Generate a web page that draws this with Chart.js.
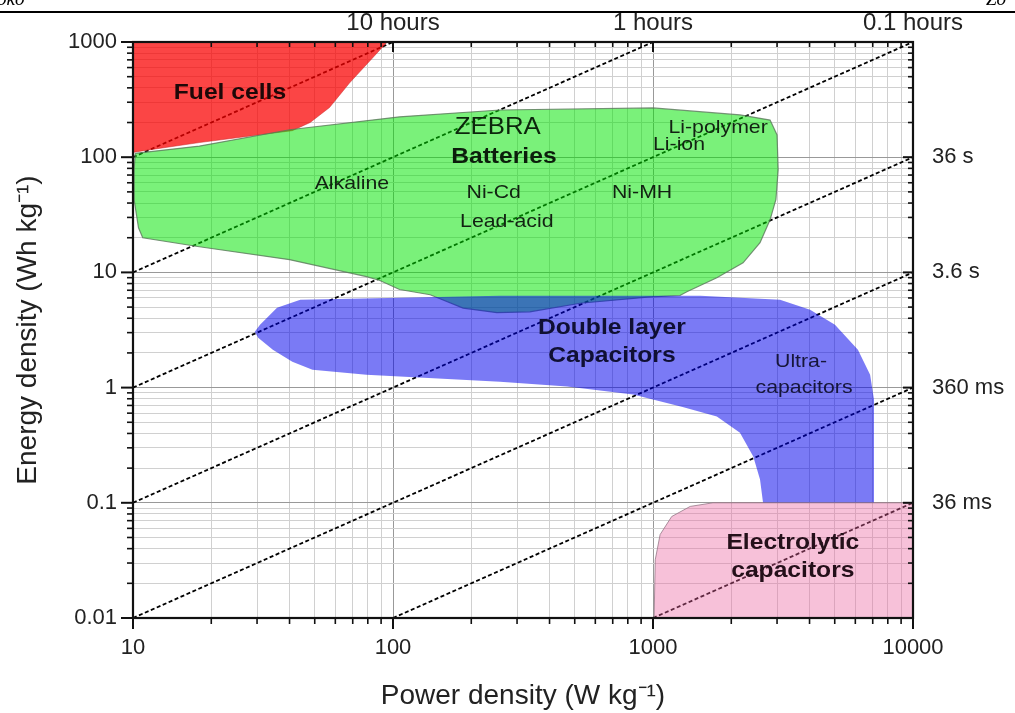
<!DOCTYPE html>
<html>
<head>
<meta charset="utf-8">
<script src="https://cdn.jsdelivr.net/npm/chart.js@4/dist/chart.umd.min.js"></script>
<style>
  html, body { margin: 0; padding: 0; background: #fff; }
  #wrap { width: 1015px; height: 713px; position: relative; }
</style>
</head>
<body>
<div id="wrap"><canvas id="ragone"></canvas></div>
<script>
// axis ticks (decades) and their labels
const powerTicks = [10, 100, 1000, 10000];
const powerLabels = ['10', '100', '1000', '10000'];
const energyTicks = [0.01, 0.1, 1, 10, 100, 1000];
const energyLabels = ['0.01', '0.1', '1', '10', '100', '1000'];
const hourTicks = [100, 1000, 10000];
const hourLabels = ['10 hours', '1 hours', '0.1 hours'];
const timeTicks = [100, 10, 1, 0.1];
const timeLabels = ['36 s', '3.6 s', '360 ms', '36 ms'];

// regions, power density (W/kg) and energy density (Wh/kg) outlines
const fuelP = [10, 95, 68, 57, 48, 41, 18, 11, 10];
const fuelE = [1000, 1000, 440, 270, 200, 170, 134, 114, 110];

const batteryP = [10.2, 18, 40, 106, 258, 1000, 2160, 2820, 3000, 3030, 2970, 2820, 2580, 2220, 1760, 1350, 1270, 950, 525, 336, 251, 186, 139, 106, 89, 79, 40, 18, 10.9, 10.5, 10.1, 10.1, 10.2];
const batteryE = [108, 125, 173, 224, 257, 268, 233, 210, 156, 78, 43, 28.6, 18.1, 12.1, 9.0, 6.8, 6.3, 6.1, 5.4, 4.55, 4.47, 4.9, 6.4, 7.1, 8.5, 9.2, 12.9, 16.7, 20, 24.4, 42.7, 78, 108];

const capP = [29.4, 30.8, 35.8, 44, 258, 1520, 3080, 4020, 5010, 6140, 6840, 7080, 7080, 2650, 2580, 2430, 2160, 1760, 1300, 838, 467, 258, 79, 49, 41, 34.5, 30.3];
const capE = [3.05, 3.52, 4.93, 5.8, 6.27, 6.27, 5.78, 4.74, 3.52, 2.13, 1.29, 0.785, 0.1, 0.1, 0.159, 0.252, 0.406, 0.56, 0.68, 0.87, 1.02, 1.125, 1.29, 1.43, 1.68, 2.13, 2.71];

const elecP = [1010, 1020, 1065, 1180, 1390, 1700, 10000, 10000];
const elecE = [0.01, 0.032, 0.053, 0.076, 0.093, 0.1, 0.1, 0.01];

// constant discharge time lines, end points
const guideP1 = [10, 10, 10, 10, 10, 100, 1000];
const guideE1 = [100, 10, 1, 0.1, 0.01, 0.01, 0.01];
const guideP2 = [100, 1000, 10000, 10000, 10000, 10000, 10000];
const guideE2 = [1000, 1000, 1000, 100, 10, 1, 0.1];

const FONT = '"Liberation Sans", Arial, sans-serif';

function pts(xs, ys) {
  return xs.map((x, i) => ({x: x, y: ys[i]}));
}

// 1..9 x each decade
function withMinor(majors) {
  const out = [];
  majors.forEach((m, i) => {
    if (i === majors.length - 1) { out.push(m); return; }
    for (let k = 1; k < 10; k++) out.push(m * k);
  });
  return out;
}
const powerAll = withMinor(powerTicks);
const energyAll = withMinor(energyTicks);

function region(label, xs, ys, fillColor, borderColor, borderWidth) {
  return {
    label: label,
    data: pts(xs, ys),
    showLine: true,
    fill: 'shape',
    backgroundColor: fillColor,
    borderColor: borderColor,
    borderWidth: borderWidth,
    pointRadius: 0,
    tension: 0
  };
}

// drawn last-to-first: guides, fuel cells, batteries, capacitors, electrolytic
const datasets = [
  region('Electrolytic capacitors', elecP, elecE, 'rgba(235,100,160,0.4)', 'rgba(150,120,135,0.8)', 1),
  region('Double layer capacitors', capP, capE, 'rgba(0,0,236,0.52)', 'rgba(0,0,0,0)', 0),
  region('Batteries', batteryP, batteryE, 'rgba(0,228,0,0.52)', 'rgba(90,120,90,0.8)', 1.2),
  region('Fuel cells', fuelP, fuelE, 'rgba(250,0,0,0.73)', 'rgba(200,40,40,0.5)', 1)
];

guideP1.forEach((p, i) => {
  datasets.push({
    label: 'guide' + i,
    data: [{x: p, y: guideE1[i]}, {x: guideP2[i], y: guideE2[i]}],
    showLine: true,
    fill: false,
    borderColor: '#000',
    borderWidth: 1.8,
    borderDash: [4, 2.5],
    pointRadius: 0
  });
});

// text written inside the regions
const notes = [
  {t: 'Fuel cells', p: 23.6, e: 361, bold: true, size: 22, color: '#1e0808'},
  {t: 'ZEBRA', p: 253, e: 179, bold: false, size: 23, color: '#0c260c'},
  {t: 'Batteries', p: 267, e: 101, bold: true, size: 22, color: '#0c1e0c'},
  {t: 'Alkaline', p: 69.5, e: 58.6, bold: false, size: 19, color: '#122212'},
  {t: 'Ni-Cd', p: 244, e: 49, bold: false, size: 19, color: '#122212'},
  {t: 'Lead-acid', p: 274, e: 27.5, bold: false, size: 19, color: '#122212'},
  {t: 'Ni-MH', p: 908, e: 49, bold: false, size: 19, color: '#122212'},
  {t: 'Li-polymer', p: 1780, e: 179, bold: false, size: 19, color: '#122212'},
  {t: 'Li-ion', p: 1259, e: 128, bold: false, size: 19, color: '#122212'},
  {t: 'Double layer', p: 695, e: 3.31, bold: true, size: 22, color: '#101034'},
  {t: 'Capacitors', p: 695, e: 1.89, bold: true, size: 22, color: '#101034'},
  {t: 'Ultra-', p: 3710, e: 1.68, bold: false, size: 19, color: '#16163a'},
  {t: 'capacitors', p: 3810, e: 1.0, bold: false, size: 19, color: '#16163a'},
  {t: 'Electrolytic', p: 3450, e: 0.0452, bold: true, size: 22, color: '#24101a'},
  {t: 'capacitors', p: 3450, e: 0.0258, bold: true, size: 22, color: '#24101a'}
];

const ragonePlugin = {
  id: 'ragone',
  afterDatasetsDraw(chart) {
    const ctx = chart.ctx;
    const {left, right, top, bottom} = chart.chartArea;
    const xs = chart.scales.x, ys = chart.scales.y;
    ctx.save();
    ctx.strokeStyle = '#111';
    const line = (x1, y1, x2, y2) => { ctx.beginPath(); ctx.moveTo(x1, y1); ctx.lineTo(x2, y2); ctx.stroke(); };
    // ticks: outward on bottom/left, inward on top/right
    powerAll.forEach(v => {
      const px = xs.getPixelForValue(v);
      const major = powerTicks.includes(v);
      ctx.lineWidth = major ? 2 : 1.6;
      line(px, bottom, px, bottom + (major ? 11 : 6));
      line(px, top, px, top + (major ? 10 : 5));
    });
    energyAll.forEach(v => {
      const py = ys.getPixelForValue(v);
      const major = energyTicks.includes(v);
      ctx.lineWidth = major ? 2 : 1.6;
      line(left - (major ? 12 : 6), py, left, py);
      line(right - (major ? 10 : 5), py, right, py);
    });
    ctx.lineWidth = 2.2;
    ctx.strokeRect(left, top, right - left, bottom - top);

    ctx.textAlign = 'center';
    ctx.textBaseline = 'middle';
    notes.forEach(n => {
      ctx.save();
      ctx.translate(xs.getPixelForValue(n.p), ys.getPixelForValue(n.e));
      ctx.scale(1.12, 1);
      ctx.font = (n.bold ? 'bold ' : '') + n.size + 'px ' + FONT;
      ctx.fillStyle = n.color;
      ctx.fillText(n.t, 0, 0);
      ctx.restore();
    });
    ctx.restore();
  },
  afterDraw(chart) {
    // page header fragment above the figure
    const ctx = chart.ctx;
    ctx.save();
    ctx.fillStyle = '#000';
    ctx.fillRect(0, 11, chart.width, 2);
    ctx.font = 'italic 19px "Liberation Serif", serif';
    ctx.textBaseline = 'alphabetic';
    ctx.textAlign = 'left';
    ctx.fillText('oko', -3, 5);
    ctx.fillText('Zo', 986, 5);
    ctx.restore();
  }
};

function gridColor(majors) {
  return c => (c.tick && majors.includes(c.tick.value)) ? '#999' : '#d0d0d0';
}

new Chart(document.getElementById('ragone'), {
  type: 'scatter',
  data: {datasets: datasets},
  options: {
    responsive: true,
    maintainAspectRatio: false,
    animation: false,
    events: [],
    layout: {padding: 0},
    plugins: {
      legend: {display: false},
      tooltip: {enabled: false}
    },
    scales: {
      x: {
        type: 'logarithmic',
        position: 'bottom',
        min: 10,
        max: 10000,
        afterBuildTicks: s => { s.ticks = powerAll.map(v => ({value: v})); },
        afterFit: s => { s.height = 95; },
        grid: {color: gridColor(powerTicks), lineWidth: 1, drawTicks: false},
        border: {display: false},
        ticks: {
          autoSkip: false,
          maxRotation: 0,
          padding: 17,
          color: '#222',
          font: {family: FONT, size: 22},
          callback: v => { const i = powerTicks.indexOf(v); return i >= 0 ? powerLabels[i] : ''; }
        },
        title: {
          display: true,
          text: 'Power density (W kg\u207B\u00B9)',
          color: '#222',
          font: {family: FONT, size: 28},
          padding: {top: 0, bottom: 0}
        }
      },
      x2: {
        type: 'logarithmic',
        position: 'top',
        min: 10,
        max: 10000,
        afterBuildTicks: s => { s.ticks = hourTicks.map(v => ({value: v})); },
        afterFit: s => { s.height = 42; },
        grid: {display: false, drawTicks: false},
        border: {display: false},
        ticks: {
          autoSkip: false,
          maxRotation: 0,
          padding: 4,
          color: '#222',
          font: {family: FONT, size: 24},
          callback: v => { const i = hourTicks.indexOf(v); return i >= 0 ? hourLabels[i] : ''; }
        }
      },
      y: {
        type: 'logarithmic',
        position: 'left',
        min: 0.01,
        max: 1000,
        afterBuildTicks: s => { s.ticks = energyAll.map(v => ({value: v})); },
        afterFit: s => { s.width = 133; },
        grid: {color: gridColor(energyTicks), lineWidth: 1, drawTicks: false},
        border: {display: false},
        ticks: {
          autoSkip: false,
          padding: 16,
          color: '#222',
          font: {family: FONT, size: 22},
          callback: v => { const i = energyTicks.indexOf(v); return i >= 0 ? energyLabels[i] : ''; }
        },
        title: {
          display: true,
          text: 'Energy density (Wh kg\u207B\u00B9)',
          color: '#222',
          font: {family: FONT, size: 28},
          padding: {top: 11, bottom: 0}
        }
      },
      y2: {
        type: 'logarithmic',
        position: 'right',
        min: 0.01,
        max: 1000,
        afterBuildTicks: s => { s.ticks = timeTicks.map(v => ({value: v})); },
        afterFit: s => { s.width = 102; },
        grid: {display: false, drawTicks: false},
        border: {display: false},
        ticks: {
          autoSkip: false,
          padding: 19,
          color: '#222',
          font: {family: FONT, size: 22},
          callback: v => { const i = timeTicks.indexOf(v); return i >= 0 ? timeLabels[i] : ''; }
        }
      }
    }
  },
  plugins: [ragonePlugin]
});
</script>
</body>
</html>
